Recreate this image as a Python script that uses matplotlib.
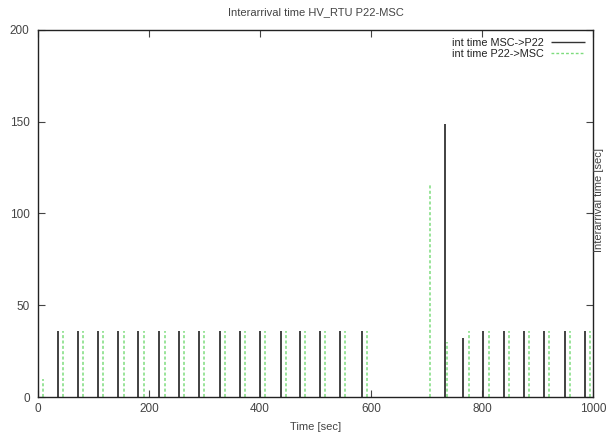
import matplotlib
matplotlib.use("Agg")
import matplotlib.pyplot as plt

# MSC -> P22 interarrival impulses (time [sec], interval [sec])
msc_time = [36, 72, 108, 144, 181, 218, 254, 290, 328, 364, 400, 437,
            473, 509, 545, 583, 733, 765, 801, 839, 875, 912, 950, 986]
msc_int = [36, 36, 36, 36, 36, 36, 36, 36, 36, 36, 36, 36,
           36, 36, 36, 36, 149, 32, 36, 36, 36, 36, 36, 36]

# P22 -> MSC
p22_time = [9, 45, 81, 117, 155, 191, 228, 263, 300, 337, 373, 409, 446,
            482, 518, 554, 592, 706, 737, 776, 812, 848, 884, 921, 958, 995]
p22_int = [10, 36, 36, 36, 36, 36, 36, 36, 36, 36, 36, 36, 36,
           36, 36, 36, 36, 116, 30, 36, 36, 36, 36, 36, 36, 36]

x_ticks = [0, 200, 400, 600, 800, 1000]
y_ticks = [0, 50, 100, 150, 200]

txt = "#444444"
plt.rcParams['font.family'] = ['Liberation Sans', 'DejaVu Sans']

fig = plt.figure(figsize=(6.06, 4.38), dpi=100)
ax = fig.add_axes([0.0627, 0.0936, 0.9158, 0.838])

ax.vlines(msc_time, 0, msc_int, colors="#333333", linewidth=1.3,
          label="int time MSC->P22")
ax.vlines(p22_time, 0, p22_int, colors="#7ddc7d", linewidth=1.1,
          linestyles=(0, (2, 1.5)), label="int time P22->MSC")

ax.set_xlim(0, 1000)
ax.set_ylim(0, 200)
ax.set_xticks(x_ticks)
ax.set_yticks(y_ticks)
ax.tick_params(direction="in", top=True, right=True, length=5,
               labelsize=8.5, colors=txt, labelcolor=txt, pad=4)
ax.tick_params(axis="y", pad=6)
for s in ax.spines.values():
    s.set_color("#222222")
    s.set_linewidth(1.0)

ax.set_title("Interarrival time HV_RTU P22-MSC", fontsize=8, color=txt, pad=11)
ax.set_xlabel("Time [sec]", fontsize=8, color=txt, labelpad=5)
# y label on the right edge, next to the frame
fig.text(599.5 / 606, 1 - 200 / 438, "Interarrival time [sec]", rotation=90,
         ha="center", va="center", fontsize=8, color=txt)

leg = ax.legend(loc="upper right", markerfirst=False, frameon=False,
                fontsize=7.8, handlelength=3.2, borderaxespad=0.3,
                labelspacing=0.1, handletextpad=0.6)
for t in leg.get_texts():
    t.set_color("#222222")
for h in leg.legend_handles:
    h.set_linewidth(1.0)

fig.savefig("out.png", dpi=100)
